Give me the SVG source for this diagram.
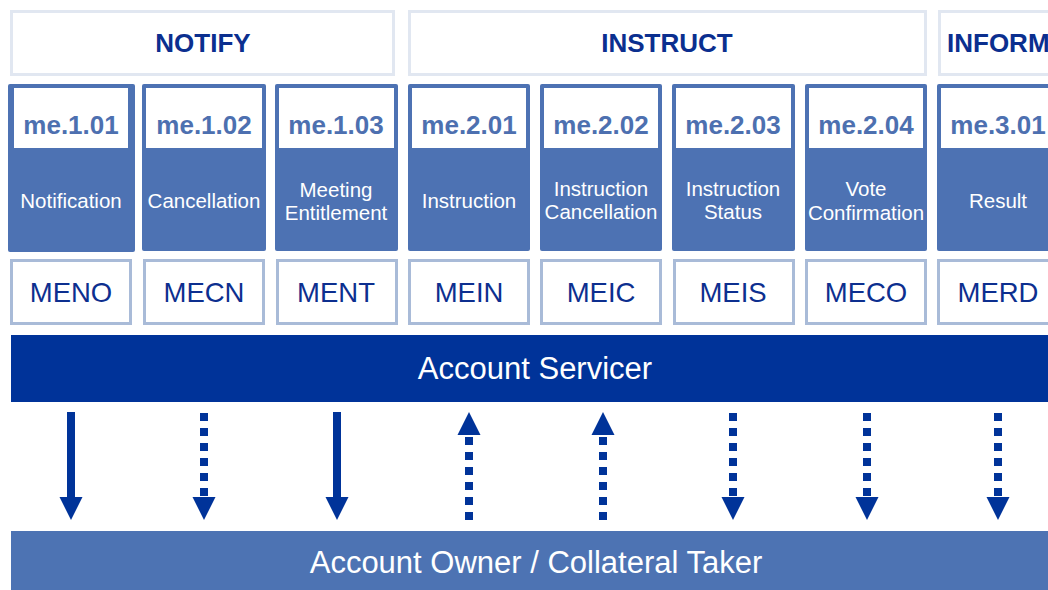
<svg xmlns="http://www.w3.org/2000/svg" width="1048" height="590" viewBox="0 0 1048 590">
<defs>
<style>
.hdr{fill:#ffffff;stroke:#e1e7f1;stroke-width:3}
.hdrt{font-family:"Liberation Sans",Arial,sans-serif;font-weight:bold;font-size:26px;fill:#0b2f8f}
.frame{fill:#4d72b3}
.inner{fill:#ffffff}
.code{font-family:"Liberation Sans",Arial,sans-serif;font-weight:bold;font-size:26px;fill:#4d70b0;text-anchor:middle}
.lbl{font-family:"Liberation Sans",Arial,sans-serif;font-size:20.5px;fill:#ffffff;text-anchor:middle}
.mbox{fill:#ffffff;stroke:#a9bbd8;stroke-width:3}
.mt{font-family:"Liberation Sans",Arial,sans-serif;font-size:27.5px;fill:#0d2f8f;text-anchor:middle}
.bart{font-family:"Liberation Sans",Arial,sans-serif;font-size:31px;fill:#ffffff;text-anchor:middle}
.solid{stroke:#003399;stroke-width:8;fill:none}
.dot{stroke:#003399;stroke-width:8;fill:none;stroke-dasharray:8 7}
</style>
<marker id="ah" markerUnits="userSpaceOnUse" markerWidth="24" markerHeight="24" refX="0" refY="11.5" orient="auto" viewBox="0 0 24 23">
<path d="M0,0 L23,11.5 L0,23 Z" fill="#003399"/>
</marker>
</defs>

<g id="hdr-notify">
<rect class="hdr" x="11.5" y="11.5" width="382" height="63"/>
<text class="hdrt" x="203" y="52" text-anchor="middle">NOTIFY</text>
</g>
<g id="hdr-instruct">
<rect class="hdr" x="409.5" y="11.5" width="516" height="63"/>
<text class="hdrt" x="667" y="52" text-anchor="middle">INSTRUCT</text>
</g>
<g id="hdr-inform">
<rect class="hdr" x="939.5" y="11.5" width="130" height="63"/>
<text class="hdrt" x="947" y="52">INFORM</text>
</g>

<g id="col-me101">
<rect class="frame" x="8" y="84" width="127" height="168" rx="2"/>
<rect class="inner" x="14" y="88" width="114" height="60"/>
<text class="code" x="71" y="134">me.1.01</text>
<text class="lbl" x="71" y="208">Notification</text>
<rect class="mbox" x="11.5" y="260.5" width="119" height="63"/>
<text class="mt" x="71" y="302">MENO</text>
</g>
<g id="col-me102">
<rect class="frame" x="142" y="84" width="124" height="167" rx="2"/>
<rect class="inner" x="146" y="88" width="116" height="60"/>
<text class="code" x="204" y="134">me.1.02</text>
<text class="lbl" x="204" y="208">Cancellation</text>
<rect class="mbox" x="144.5" y="260.5" width="119" height="63"/>
<text class="mt" x="204" y="302">MECN</text>
</g>
<g id="col-me103">
<rect class="frame" x="275" y="84" width="123" height="167" rx="2"/>
<rect class="inner" x="279" y="88" width="115" height="60"/>
<text class="code" x="336" y="134">me.1.03</text>
<text class="lbl" x="336" y="197">Meeting</text>
<text class="lbl" x="336" y="220">Entitlement</text>
<rect class="mbox" x="277.5" y="260.5" width="119" height="63"/>
<text class="mt" x="336" y="302">MENT</text>
</g>
<g id="col-me201">
<rect class="frame" x="408" y="84" width="122" height="167" rx="2"/>
<rect class="inner" x="412" y="88" width="114" height="60"/>
<text class="code" x="469" y="134">me.2.01</text>
<text class="lbl" x="469" y="208">Instruction</text>
<rect class="mbox" x="409.5" y="260.5" width="119" height="63"/>
<text class="mt" x="469" y="302">MEIN</text>
</g>
<g id="col-me202">
<rect class="frame" x="540" y="84" width="122" height="167" rx="2"/>
<rect class="inner" x="544" y="88" width="114" height="60"/>
<text class="code" x="601" y="134">me.2.02</text>
<text class="lbl" x="601" y="196">Instruction</text>
<text class="lbl" x="601" y="219">Cancellation</text>
<rect class="mbox" x="541.5" y="260.5" width="119" height="63"/>
<text class="mt" x="601" y="302">MEIC</text>
</g>
<g id="col-me203">
<rect class="frame" x="672" y="84" width="123" height="167" rx="2"/>
<rect class="inner" x="676" y="88" width="115" height="60"/>
<text class="code" x="733" y="134">me.2.03</text>
<text class="lbl" x="733" y="196">Instruction</text>
<text class="lbl" x="733" y="219">Status</text>
<rect class="mbox" x="674.5" y="260.5" width="119" height="63"/>
<text class="mt" x="733" y="302">MEIS</text>
</g>
<g id="col-me204">
<rect class="frame" x="805" y="84" width="122" height="167" rx="2"/>
<rect class="inner" x="809" y="88" width="114" height="60"/>
<text class="code" x="866" y="134">me.2.04</text>
<text class="lbl" x="866" y="196">Vote</text>
<text class="lbl" x="866" y="220">Confirmation</text>
<rect class="mbox" x="806.5" y="260.5" width="119" height="63"/>
<text class="mt" x="866" y="302">MECO</text>
</g>
<g id="col-me301">
<rect class="frame" x="937" y="84" width="122" height="167" rx="2"/>
<rect class="inner" x="941" y="88" width="114" height="60"/>
<text class="code" x="998" y="134">me.3.01</text>
<text class="lbl" x="998" y="208">Result</text>
<rect class="mbox" x="938.5" y="260.5" width="119" height="63"/>
<text class="mt" x="998" y="302">MERD</text>
</g>

<g id="account-servicer">
<rect x="11" y="335" width="1050" height="67" fill="#003399"/>
<text class="bart" x="535" y="379">Account Servicer</text>
</g>
<g id="account-owner">
<rect x="11" y="531" width="1050" height="70" fill="#4d73b3"/>
<text class="bart" x="536" y="573">Account Owner / Collateral Taker</text>
</g>

<g id="connectors">
<line class="solid" x1="71" y1="412" x2="71" y2="497" marker-end="url(#ah)"/>
<line class="dot" x1="204" y1="413" x2="204" y2="497" marker-end="url(#ah)"/>
<line class="solid" x1="337" y1="412" x2="337" y2="497" marker-end="url(#ah)"/>
<line class="dot" x1="469" y1="520" x2="469" y2="435" marker-end="url(#ah)"/>
<line class="dot" x1="603" y1="520" x2="603" y2="435" marker-end="url(#ah)"/>
<line class="dot" x1="733" y1="413" x2="733" y2="497" marker-end="url(#ah)"/>
<line class="dot" x1="867" y1="413" x2="867" y2="497" marker-end="url(#ah)"/>
<line class="dot" x1="998" y1="413" x2="998" y2="497" marker-end="url(#ah)"/>
</g>
</svg>
